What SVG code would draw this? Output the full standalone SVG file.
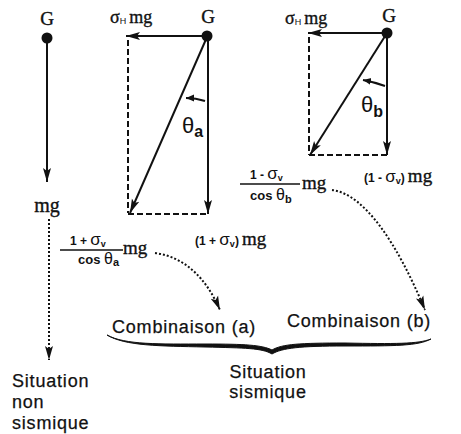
<svg xmlns="http://www.w3.org/2000/svg" width="461" height="434" viewBox="0 0 461 434">
<style>
.ser{font-family:"Liberation Serif","DejaVu Serif",serif;fill:#111;stroke:#111;stroke-width:0.35px}
.sans{font-family:"Liberation Sans",Arial,sans-serif;fill:#111}
.ln{stroke:#111;stroke-width:2;fill:none}
.dash{stroke:#111;stroke-width:2;fill:none;stroke-dasharray:6,3}
.dot{stroke:#111;stroke-width:2;fill:none;stroke-dasharray:2,2}
.lbl{font-size:18px;letter-spacing:0.8px;stroke:#111;stroke-width:0.25px}
.sm{font-weight:bold}
</style>
<defs>
<marker id="ah" markerUnits="userSpaceOnUse" markerWidth="16" markerHeight="10" refX="14" refY="5" orient="auto">
<path d="M0,1 L14,5 L0,9 L3,5 Z" fill="#111"/>
</marker>
<marker id="ahs" markerUnits="userSpaceOnUse" markerWidth="10" markerHeight="8" refX="8" refY="4" orient="auto">
<path d="M0,0.5 L8,4 L0,7.5 Z" fill="#111"/>
</marker>
</defs>

<g id="connectors">
<line class="ln" x1="47" y1="38" x2="47" y2="182" marker-end="url(#ah)"/>
<line class="dot" x1="49" y1="219" x2="49" y2="360" marker-end="url(#ah)"/>
<line class="ln" x1="207" y1="36" x2="126" y2="36" marker-end="url(#ah)"/>
<line class="dash" x1="128" y1="40" x2="128" y2="213"/>
<line class="dash" x1="128" y1="214" x2="208" y2="214"/>
<line class="ln" x1="208" y1="36" x2="208" y2="214" marker-end="url(#ah)"/>
<line class="ln" x1="207" y1="37" x2="130" y2="213" marker-end="url(#ah)"/>
<path class="ln" d="M205,101 Q196,98 186,98" stroke-width="1.8" marker-end="url(#ahs)"/>
<line class="ln" x1="387" y1="33" x2="308" y2="33" marker-end="url(#ah)"/>
<line class="dash" x1="309" y1="37" x2="309" y2="155"/>
<line class="dash" x1="309" y1="155" x2="387" y2="155"/>
<line class="ln" x1="387" y1="33" x2="387" y2="155" marker-end="url(#ah)"/>
<line class="ln" x1="387" y1="33" x2="310" y2="155" marker-end="url(#ah)"/>
<path class="ln" d="M385,86 Q374,82 363,80" stroke-width="1.8" marker-end="url(#ahs)"/>
<path class="dot" d="M155,253 C185,257 206,278 220,310" marker-end="url(#ah)"/>
<path class="dot" d="M332,190 C365,194 398,245 425,310" marker-end="url(#ah)"/>
<path d="M107,335 C125,346 160,346 205,347 C245,348 262,348 272,354 C282,348 300,346 345,346 C395,346 418,346 431,339 C418,344 395,344 345,343 C300,343 282,344 272,350 C262,345 245,344 205,344 C160,344 125,345 107,335 Z" fill="#111" stroke="#111" stroke-width="1"/>
</g>

<g id="dots">
<circle cx="47" cy="38" r="5.5" fill="#111"/>
<circle cx="207" cy="36" r="5.5" fill="#111"/>
<circle cx="387" cy="33" r="5.5" fill="#111"/>
</g>

<g id="left">
<text class="ser" x="47" y="25" font-size="19" text-anchor="middle">G</text>
<text class="ser" x="47" y="212" font-size="20" text-anchor="middle">mg</text>
<text class="sans lbl" x="12" y="387">Situation</text>
<text class="sans lbl" x="12" y="408">non</text>
<text class="sans lbl" x="12" y="429">sismique</text>
</g>

<g id="combi-a">
<text class="ser" x="208" y="23" font-size="19" text-anchor="middle">G</text>
<text class="ser" x="110" y="23" font-size="18">σ<tspan class="sans" font-size="9" dy="1" stroke-width="0">H</tspan><tspan dx="3" dy="-1">mg</tspan></text>
<text class="sans" x="182" y="133" font-size="22">θ<tspan font-size="16" dy="4" font-weight="bold">a</tspan></text>
<text class="sans sm" x="195" y="245" font-size="12">(1 + <tspan class="sans" font-size="17" font-weight="normal">σ</tspan><tspan font-size="9" dy="2">v</tspan><tspan dy="-2">)</tspan><tspan class="ser" font-size="19" font-weight="normal" dx="3">mg</tspan></text>
<text class="sans sm" x="70" y="245" font-size="12">1 + <tspan font-size="17" font-weight="normal">σ</tspan><tspan font-size="9" dy="2">v</tspan></text>
<line x1="60" y1="250" x2="123" y2="250" stroke="#111" stroke-width="1.5"/>
<text class="sans sm" x="78" y="264" font-size="13">cos <tspan font-size="16" font-weight="normal">θ</tspan><tspan font-size="11" dy="2">a</tspan></text>
<text class="ser" x="123" y="254" font-size="19">mg</text>
<text class="sans lbl" x="112" y="333">Combinaison (a)</text>
</g>

<g id="combi-b">
<text class="ser" x="389" y="22" font-size="19" text-anchor="middle">G</text>
<text class="ser" x="285" y="24" font-size="18">σ<tspan class="sans" font-size="9" dy="1" stroke-width="0">H</tspan><tspan dx="3" dy="-1">mg</tspan></text>
<text class="sans" x="361" y="112" font-size="22">θ<tspan font-size="16" dy="5" font-weight="bold">b</tspan></text>
<text class="sans sm" x="364" y="182" font-size="12">(1 - <tspan font-size="17" font-weight="normal">σ</tspan><tspan font-size="9" dy="2">v</tspan><tspan dy="-2">)</tspan><tspan class="ser" font-size="19" font-weight="normal" dx="3">mg</tspan></text>
<text class="sans sm" x="250" y="179" font-size="12">1 - <tspan font-size="17" font-weight="normal">σ</tspan><tspan font-size="9" dy="2">v</tspan></text>
<line x1="240" y1="184" x2="300" y2="184" stroke="#111" stroke-width="1.5"/>
<text class="sans sm" x="250" y="200" font-size="13">cos <tspan font-size="16" font-weight="normal">θ</tspan><tspan font-size="11" dy="3">b</tspan></text>
<text class="ser" x="302" y="189" font-size="19">mg</text>
<text class="sans lbl" x="287" y="327">Combinaison (b)</text>
</g>

<g id="seismic">
<text class="sans lbl" x="268" y="378" text-anchor="middle">Situation</text>
<text class="sans lbl" x="268" y="398" text-anchor="middle">sismique</text>
</g>
</svg>
